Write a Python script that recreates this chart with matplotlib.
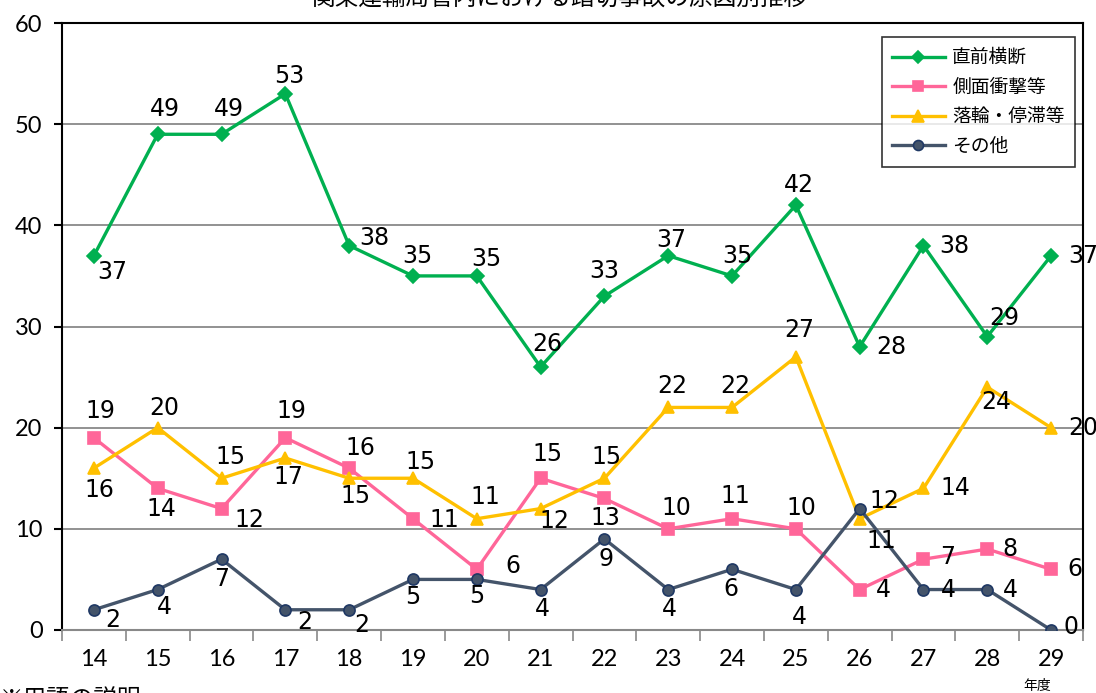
import numpy as np
import matplotlib.pyplot as plt
from matplotlib.ticker import FixedLocator

plt.rcParams['font.family'] = ['Noto Sans CJK JP', 'DejaVu Sans']

# data (年度, 平成)
years = ['14', '15', '16', '17', '18', '19', '20', '21', '22', '23', '24', '25', '26', '27', '28', '29']
chokuzen = [37, 49, 49, 53, 38, 35, 35, 26, 33, 37, 35, 42, 28, 38, 29, 37]
sokumen = [19, 14, 12, 19, 16, 11, 6, 15, 13, 10, 11, 10, 4, 7, 8, 6]
rakurin = [16, 20, 15, 17, 15, 15, 11, 12, 15, 22, 22, 27, 11, 14, 24, 20]
sonota = [2, 4, 7, 2, 2, 5, 5, 4, 9, 4, 6, 4, 12, 4, 4, 0]

# label offsets in pixels (dx, dy up)
off_g = [(18, -16), (7, 25), (7, 25), (4, 18), (25, 8), (4, 20), (10, 17), (7, 23),
         (0, 25), (3, 16), (5, 20), (3, 20), (32, 0), (31, 0), (17, 19), (32, 0)]
off_p = [(6, 27), (4, -21), (28, -11), (6, 27), (11, 20), (31, -1), (36, 3), (7, 24),
         (1, -20), (8, 21), (3, 23), (6, 21), (24, 0), (24, 2), (23, 0), (24, 0)]
off_y = [(5, -22), (7, 20), (9, 21), (3, -19), (6, -18), (8, 16), (9, 22), (14, -12),
         (2, 21), (4, 21), (3, 21), (3, 27), (22, -22), (32, 0), (9, -15), (32, 0)]
off_d = [(19, -10), (7, -17), (0, -20), (19, -12), (13, -15), (0, -18), (0, -17), (2, -19),
         (2, -20), (1, -19), (-1, -20), (4, -27), (25, 8), (25, 0), (23, 0), (20, 3)]

fig = plt.figure(figsize=(10.96, 6.93), dpi=100)
ax = fig.add_axes([62/1096, 1-630/693, (1083-62)/1096, (630-23)/693])

x = np.arange(len(years))
series = [
    ('直前横断', chokuzen, '#00B050', 'D', '#00B050', 7, off_g),
    ('側面衝撃等', sokumen, '#FF6699', 's', '#FF6699', 8, off_p),
    ('落輪・停滞等', rakurin, '#FFC000', '^', '#FFC000', 9, off_y),
    ('その他', sonota, '#44546A', 'o', '#1F3864', 8, off_d),
]

numfont = ['Liberation Sans Narrow', 'DejaVu Sans']
for name, vals, col, mk, ec, ms, offs in series:
    ax.plot(x, vals, color=col, lw=2.4, marker=mk, ms=ms, markerfacecolor=col,
            markeredgecolor=ec, markeredgewidth=1.2, label=name, zorder=3)
    for xi, v, (dx, dy) in zip(x, vals, offs):
        ax.annotate(str(v), (xi, v), xytext=(dx, dy), textcoords='offset pixels',
                    ha='center', va='center', fontsize=17, family=numfont,
                    color='black', zorder=5)

ax.set_xlim(-0.5, 15.5)
ax.set_ylim(0, 60)
ax.set_yticks(range(0, 61, 10))
ax.set_yticklabels([str(v) for v in range(0, 61, 10)], family=['Lato', 'DejaVu Sans'], fontsize=17)
ax.set_xticks(x)
ax.set_xticklabels(years, family=['Lato', 'DejaVu Sans'], fontsize=17)
ax.xaxis.set_minor_locator(FixedLocator(np.arange(-0.5, 16, 1)))
ax.tick_params(axis='x', which='major', length=0, pad=14)
ax.tick_params(axis='x', which='minor', length=8, color='#898989', width=1.2)
ax.tick_params(axis='y', length=6, width=1.5, color='black', pad=8)

ax.grid(axis='y', color='#898989', lw=1.3)
ax.set_axisbelow(True)
for s in ['left', 'right', 'top']:
    ax.spines[s].set_color('black')
    ax.spines[s].set_linewidth(1.5)
ax.spines['bottom'].set_color('#898989')
ax.spines['bottom'].set_linewidth(1.5)

leg = ax.legend(loc='upper right', bbox_to_anchor=(1075/1096, 1-37/693),
                bbox_transform=fig.transFigure, borderaxespad=0, fontsize=13.5,
                frameon=True, fancybox=False, edgecolor='black', handlelength=2.8,
                handletextpad=0.4, labelspacing=0.45, borderpad=0.55, markerscale=0.9)
leg.get_frame().set_linewidth(1.2)

fig.text(560/1096, 1.003, '関東運輸局管内における踏切事故の原因別推移',
         ha='center', va='center', fontsize=17)
fig.text(1037/1096, 1-686/693, '年度', ha='center', va='center', fontsize=10)
fig.text(0.0, -0.01, '※用語の説明', ha='left', va='center', fontsize=17)

fig.savefig('out.png', dpi=100)
